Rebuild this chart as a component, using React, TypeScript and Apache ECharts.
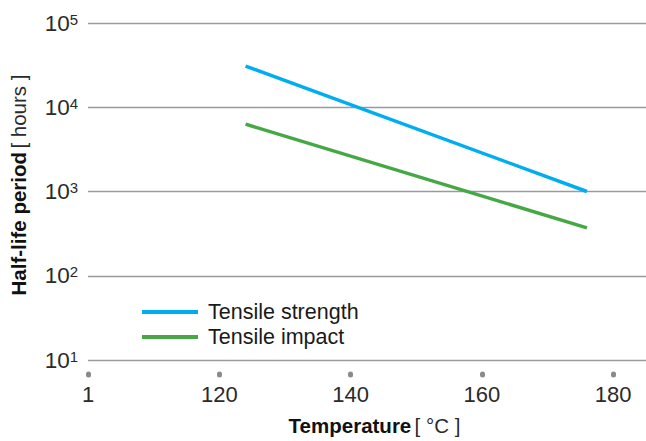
import React, { useEffect, useRef } from "react";
import * as echarts from "echarts";

const temperatureTicks = [100, 120, 140, 160, 180];
const tickLabels = ["1", "120", "140", "160", "180"];
const strengthData: [number, number][] = [
  [124, 30800],
  [176, 1000],
];
const impactData: [number, number][] = [
  [124, 6300],
  [176, 370],
];
const seriesNames = ["Tensile strength", "Tensile impact"];

export default function App() {
  const ref = useRef<HTMLDivElement>(null);
  useEffect(() => {
    if (!ref.current) return;
    const chart = echarts.init(ref.current, null, { renderer: "svg" });
    const font = "'Liberation Sans', Arial, sans-serif";
    chart.setOption({
      animation: false,
      textStyle: { fontFamily: font },
      grid: { left: 87, right: 0, top: 23, bottom: 81 },
      legend: {
        orient: "vertical",
        left: 137,
        top: 296,
        icon: "rect",
        itemWidth: 56,
        itemHeight: 4,
        itemGap: 3,
        textStyle: { fontSize: 21.5, color: "#1a1a1a", fontFamily: font, padding: [0, 0, 0, 5] },
        data: seriesNames,
      },
      xAxis: {
        type: "value",
        min: 100,
        max: 185,
        interval: 20,
        offset: 14,
        axisLine: { show: false },
        splitLine: { show: false },
        axisTick: {
          show: true,
          length: 1,
          customValues: temperatureTicks,
          lineStyle: { color: "#8a8a8a", width: 5, cap: "round" },
        },
        axisLabel: {
          customValues: temperatureTicks,
          margin: 9,
          fontSize: 22,
          color: "#2a2a2a",
          fontFamily: font,
          formatter: (v: number) => {
            const i = temperatureTicks.indexOf(v);
            return i >= 0 ? tickLabels[i] : "";
          },
        },
        name: "{b|Temperature} {n|[ °C ]}",
        nameLocation: "middle",
        nameGap: 41,
        nameTextStyle: {
          padding: [0, 0, 0, 15],
          rich: {
            b: { fontSize: 20.5, fontWeight: "bold", color: "#111", fontFamily: font },
            n: { fontSize: 20.5, color: "#2a2a2a", fontFamily: font },
          },
        },
      },
      yAxis: {
        type: "log",
        logBase: 10,
        min: 10,
        max: 100000,
        axisLine: { show: false },
        axisTick: { show: false },
        splitLine: { show: true, lineStyle: { color: "#9a9a9a", width: 1.3 } },
        axisLabel: {
          margin: 10,
          formatter: (v: number) => {
            const e = Math.round(Math.log10(v));
            return "{b|10}{s|" + e + "}";
          },
          rich: {
            b: { fontSize: 22.5, color: "#2a2a2a", fontFamily: font },
            s: { fontSize: 15, color: "#2a2a2a", fontFamily: font, verticalAlign: "top" },
          },
        },
        name: "{b|Half-life period} {n|[ hours ]}",
        nameLocation: "middle",
        nameGap: 59,
        nameTextStyle: {
          padding: [0, 0, 0, 13],
          rich: {
            b: { fontSize: 20.5, fontWeight: "bold", color: "#111", fontFamily: font },
            n: { fontSize: 20.5, color: "#2a2a2a", fontFamily: font },
          },
        },
      },
      series: [
        {
          name: seriesNames[0],
          type: "line",
          data: strengthData,
          showSymbol: false,
          color: "#00AEEF",
          lineStyle: { width: 3.5, color: "#00AEEF" },
        },
        {
          name: seriesNames[1],
          type: "line",
          data: impactData,
          showSymbol: false,
          color: "#45A845",
          lineStyle: { width: 3.5, color: "#45A845" },
        },
      ],
    });
    return () => chart.dispose();
  }, []);
  return <div ref={ref} style={{ width: 646, height: 441, position: "absolute", left: 0, top: 0 }} />;
}
